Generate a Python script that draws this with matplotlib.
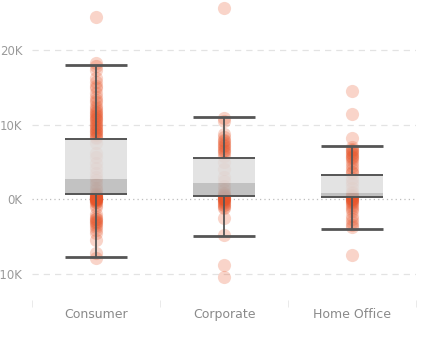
import matplotlib
matplotlib.use("Agg")
import matplotlib.pyplot as plt
from matplotlib.ticker import FuncFormatter, FixedLocator

segments = ["Consumer", "Corporate", "Home Office"]

consumer = [24400, 18200, 17800, 17300, 16300, 15700, 15200, 14900, 14300, 13700, 13300,
            13000, 12500, 12200, 11900, 11700, 11500, 11300, 11100, 10900, 10700, 10600,
            10300, 10100, 9900, 9700, 9500, 9300, 9100, 9000, 8800, 8600, 8400, 8200,
            7600, 6200, 5600, 4900, 4200, 3500, 3000, 2600, 2000, 1500, 1200, 900,
            700, 600, 500, 400, 350, 300, 250, 200, 150, 100, 50, 0, 0, -50, -100, -200,
            -300, -400, -700, -1000, -2000, -2400, -2600, -2700, -2900, -3000, -3200, -3400,
            -3700, -4100, -4500, -5400, -7200, -7800]
corporate = [25600, 10900, 10500, 8700, 8400, 8000, 7800, 7600, 7300, 7100, 6900, 6600,
             6400, 6200, 5800, 5000, 4000, 3000, 2500, 1800, 1300, 900, 700, 600, 500, 400,
             300, 200, 150, 100, 50, 0, -100, -200, -300, -500, -700, -800, -1000, -1200,
             -2500, -4800, -8800, -10400]
home_office = [14500, 11400, 8200, 7000, 6800, 6600, 6400, 6200, 6000, 5800, 5600, 5500,
               5200, 4800, 4400, 4000, 3700, 3500, 2800, 2500, 2000, 1500, 1000, 800, 600,
               500, 400, 300, 200, 100, 0, 0, -100, -200, -300, -500, -700, -1000, -1300,
               -1600, -2300, -2600, -3000, -3400, -3700, -7400]
points = [consumer, corporate, home_office]

# box statistics
whisker_hi = [18000, 11000, 7100]
q3 = [8100, 5500, 3250]
median = [2700, 2200, 850]
q1 = [700, 450, 300]
whisker_lo = [-7700, -4900, -4000]

yticks = [-10000, 0, 10000, 20000]

fig = plt.figure(figsize=(4.29, 3.48), dpi=100)
ax = fig.add_axes([32/429, 48/348, 384/429, 300/348])
ax.set_xlim(-0.5, 2.5)
ax.set_ylim(-13490, 26690)

dot_color = "#e8552a"
for i, vals in enumerate(points):
    ax.scatter([i]*len(vals), vals, s=90, color=dot_color, alpha=0.25,
               linewidths=0, zorder=2)

box_w = 0.485
pos = list(range(len(segments)))
ax.bar(pos, [a - b for a, b in zip(q3, median)], bottom=median, width=box_w,
       color="#dedede", alpha=0.85, zorder=3)
ax.bar(pos, [a - b for a, b in zip(median, q1)], bottom=q1, width=box_w,
       color="#b3b3b3", alpha=0.8, zorder=3)
line_c = "#555555"
for i in pos:
    ax.vlines(i, whisker_lo[i], q1[i], color=line_c, lw=1.3, zorder=4)
    ax.vlines(i, q3[i], whisker_hi[i], color=line_c, lw=1.3, zorder=4)
    for v, lw in [(whisker_hi[i], 2.0), (whisker_lo[i], 2.0), (q3[i], 1.4), (q1[i], 1.4)]:
        ax.hlines(v, i - box_w/2, i + box_w/2, color=line_c, lw=lw, zorder=5)

for y in [-10000, 10000, 20000]:
    ax.axhline(y, color="#e3e3e3", lw=0.9, ls=(0, (5, 4)), zorder=0)
ax.axhline(0, color="#bdbdbd", lw=0.9, ls=(0, (1, 2.5)), zorder=0)

for s in ax.spines.values():
    s.set_visible(False)
ax.set_yticks(yticks)
ax.yaxis.set_major_formatter(FuncFormatter(lambda v, p: f"{v/1000:.0f}K"))
ax.tick_params(axis="y", length=0, pad=7, labelsize=8.5, labelcolor="#9a9a9a")
ax.set_xticks(pos)
ax.set_xticklabels(segments)
ax.tick_params(axis="x", which="major", length=0, pad=6, labelsize=9, labelcolor="#8a8a8a")
ax.xaxis.set_minor_locator(FixedLocator([-0.5, 0.5, 1.5, 2.5]))
ax.tick_params(axis="x", which="minor", length=5, width=0.6, color="#e6e6e6", direction="out")

fig.savefig("out.png", dpi=100)
